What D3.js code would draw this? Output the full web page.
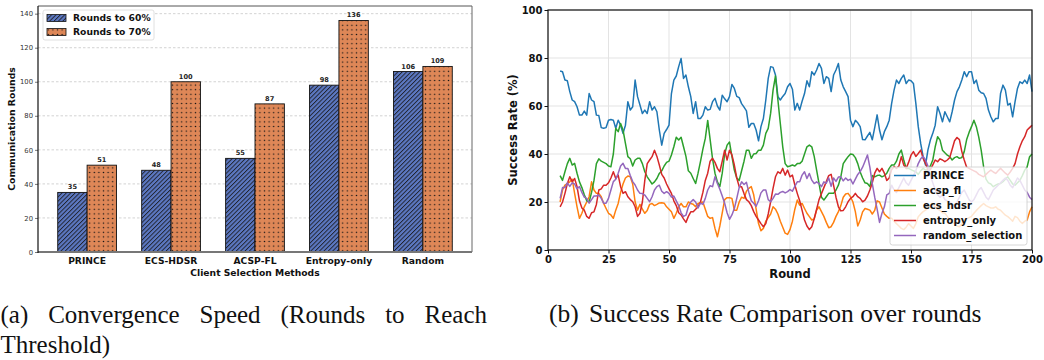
<!DOCTYPE html>
<html><head><meta charset="utf-8">
<script src="https://cdn.jsdelivr.net/npm/d3@7"></script>
<style>
html,body{margin:0;padding:0;background:#fff;}
svg{display:block;}
</style></head>
<body>
<svg id="chart" width="1044" height="360"></svg>
<script>
// ---------- Data: bar chart ----------
const categories = ["PRINCE", "ECS-HDSR", "ACSP-FL", "Entropy-only", "Random"];
const rounds60 = [35, 48, 55, 98, 106];
const rounds70 = [51, 100, 87, 136, 109];
const barYTicks = [0, 20, 40, 60, 80, 100, 120, 140];
const barLegend = ["Rounds to 60%", "Rounds to 70%"];

// ---------- Data: line chart (rounds 5..200) ----------
const firstRound = 5, lastRound = 200;
const lineXTicks = [0, 25, 50, 75, 100, 125, 150, 175, 200];
const lineYTicks = [0, 20, 40, 60, 80, 100];
const seriesNames = ["PRINCE", "acsp_fl", "ecs_hdsr", "entropy_only", "random_selection"];

const prince = [
74.6,74.3,70.8,70.5,66,62.5,61.8,59.7,56.2,56.2,
57.9,56.2,65.2,62.5,61.8,56.2,56,51,50.7,51,
54.1,54.4,54.1,50.7,54.1,52,48.6,52,61.8,58.3,
59.7,70.8,63.9,60.4,56.9,58.3,56.9,61.8,58.3,59.7,
57.6,50,43.7,48.6,50.2,52,65.2,70.8,72.5,76.4,
79.8,71.5,72.9,68,63.9,56.9,61.8,54.8,54.8,56.2,
59.7,58.3,58.6,61.8,63.2,60,58.3,64.5,63,61.8,
63.9,69,67.3,64,63.5,61,59.5,58,51.1,52.7,
52.7,50,45.5,51.4,54.8,62.5,71.5,76.4,76.1,72.9,
63.9,62.5,64,65.2,68,69.4,67,58.3,61.1,58.3,
62,65.2,70.5,68,74.3,72.9,75,77.7,75.7,69.4,
72.2,71.5,66,72.9,75,77.7,70.8,68,66,63.9,
54.1,51.4,54,53,51.4,46,45.9,47.5,49,45.9,
51,56.3,50,45.9,49.3,51.4,54.1,61.1,66.6,70.8,
69.4,71.5,72.9,69.4,70.8,70.5,69.4,61.1,51.4,44.4,
38.9,35.4,41.7,45.8,48.6,52,59.7,56.9,53.4,57.6,
55.5,53.4,57.6,62.5,66,68,70.8,74.3,72.2,74.3,
74.3,69.4,70.8,66.6,65.5,65.2,63.2,58.3,55.5,53.4,
54.8,54.8,65.2,68.7,66.6,60.4,61.1,55.5,61.8,67.3,
70.1,69.4,70.8,69.4,72.9,66];

const acspFl = [
20,25,27,27.7,28.4,29.5,23.6,18,13.2,15.3,
18,20,22.2,28.4,25,23.6,23.6,22.2,19.4,17.3,
15.3,14.6,13.2,16.6,19.4,24,27.5,30,30.8,30.5,
27.5,20,16.6,19,17,15.3,16.5,19,19.4,18.5,
19,19.6,19.7,19.5,18,17,15.9,13.2,15.3,18,
19.4,18,18,20,19.4,19.1,18,19.4,19.7,20,
17,14,13.2,13.5,9,5.5,10,15.5,21,21.8,
21.8,21.5,16.6,16.6,20,22,21.5,24.5,25.7,26.4,
23,17,11,8,9,12,13.5,15,18,17,
15,12,9.5,7,6.5,8.5,12,17,20.8,18.7,
19.4,17.3,15.3,13.9,12.5,13,16.6,18,16,14,
11.5,9.3,9.7,11.5,14,16,18.5,22,23.3,23.6,
22.2,20,16,10,12.5,15.9,17.3,17,16.6,15,
16.5,20.5,20,17.5,15,14,13.2,13.2,12,11,
10,9,8.5,9.5,11,10,9,11,13.9,15,
16,16.6,17.5,18.5,19,18,17,16.5,15.5,15.3,
14,12.5,11.5,11,10,9.7,11,12.5,13,13.5,
14,15.3,16.5,17.5,18.5,19.4,18.5,18,17.5,17.5,
18,17,16.6,15.5,14.5,13.9,13,12,14,13.5,
12,11.1,12,12.5,15.9,18];

const ecsHdsr = [
31,29,32.6,36,38.2,35.4,36.1,32,28.4,26,
23,20.5,20,24,29,36,38,37,36.5,36,
35,34.7,40,50.7,49.3,52.7,50,44.4,38.9,38,
35,37.5,38.2,38.2,36,32.6,30.5,29,27.5,28.4,
29.8,31.9,33,35,36.5,37,39.6,43,47,45.8,
47,43,39,33,32,29.8,27.7,32,36.8,42,
46.5,54,46,38,32,28.4,26.4,32,40,43.7,
45,39,33.3,30,29,33,37,41.6,41.6,38.2,
40,40.2,41.6,41.6,43.7,48.6,50.7,57,66.6,72.5,
62.5,52.7,43,36,34.7,35,35.4,35,36,36,
37,40,43,43.7,43,39,33.3,27.7,22,20.8,
22.2,23.6,23.6,23.6,25,27,30.5,36,37.5,38.9,
40,39.8,38.5,36,32.5,30,28,27.7,26.4,31,
30.5,31,31.2,30.5,31,32,34,35.4,35.4,37,
40,41.6,37.5,34,34,33.5,33,32.6,31.5,33,
34,33.3,33.3,35,37.5,43,47.2,45.8,41.6,40.5,
39.5,38.9,37.5,38.5,38.9,38.2,38.5,41,46,49,
51.4,54.1,51.4,47,41.6,34.7,29.5,28,27.5,26.4,
27,27.5,27.7,28.5,29.5,30.5,29,27.5,27,28,
29,31,33.3,34.7,38.9,40];

const entropyOnly = [
18,20,23.6,27.7,30.5,28.4,29.8,26.4,20.5,17.5,
16.6,14,13.2,15.5,15.9,19,25,25.5,27,27,
28,30,32.6,29.8,31.2,26.4,23.6,24.3,22.2,21,
20.1,18,14,15.3,20,29,36,37.5,38.9,41.6,
39,35.4,31.5,30,27.5,25.5,23.6,20.5,18.5,15.5,
14.6,13,11.5,14,15.9,15.9,17,18,20,24,
29,32,37,38.2,36.5,34,32.6,37,41.6,37.5,
41.6,39.6,35.4,30,26.4,26.4,23.5,21,20.1,18.5,
16,14,12.5,11,9.7,11,15,20.1,25.7,30.5,
32.6,31.9,34,31.2,33.3,30.5,31.2,27.1,23.6,20.5,
16.5,12.5,10,8.5,9.7,13,17,21,23.5,26,
28.5,31,31.5,27,22,18,16.3,16.5,18,20.1,
21.5,22.2,23.6,22.2,21.5,20.1,20.8,22.5,25,28,
32,34,32.6,34,32,29,30,33.5,34.7,34,
35,38.9,35.4,34,36.5,39.5,41,39,40.2,41.6,
38.2,36.1,33.3,33.5,35.5,37.5,36.8,38,37.5,36.8,
37.5,38.5,42,45.5,46.9,46,41,37.5,34.5,34,
33.5,33,32.5,31.5,31,30.5,31.5,32.5,33.3,32.5,
31.9,33,34,33,32,31.2,32.5,34,36,40,
43,45.5,47.2,50,51,52];

const randomSelection = [
21.5,26,26,28,26.5,28,27.5,25.5,26.4,24,
22,21.5,19.5,21,22.5,22.5,22.9,21.5,19.5,19.5,
21.5,25,28.5,29.5,32,35,36.1,34,34,31,
28.5,27.1,25,23.6,23.5,22.9,21.5,20.1,22.2,25,
26.4,27,24.5,23.6,24.3,23.6,22,22.5,20.5,18.5,
15.5,14,14.5,18,20,21,20,17.5,19.5,19,
21.5,25,26.8,26.4,30.5,27.7,25.3,22.5,19.5,15.5,
12.8,14.6,17.3,21.5,26,28.4,27.3,28.2,24,20.5,
19.5,18.2,20.5,23.8,25,25,21,20.1,21.5,23.3,
23.2,24,24.4,23.8,24.3,25.2,24.5,26.5,28.4,28.4,
31.2,32.6,29.8,31.9,29.1,27.7,28.4,27.7,26.4,28.4,
27.8,30,26.5,30,28.6,30.4,30.5,28.8,30,29,
29.5,27.5,29.5,31.5,32.7,34.5,37,39.6,34.5,27.7,
22,17,11.5,15.3,18,23,23.6,27,25,24,
26,28,30,28,27,29,31,33,36,38,
39,37.5,35,31,28,25,23,22,23,21,
20.5,20,19,18.5,20,22,24,25,23,21,
20,21,23,25,26,24,22,21,23,25,
26,27,28,29,30,29,27,26,28,30,
29,27,25,24,22,21];

const seriesValues = [prince, acspFl, ecsHdsr, entropyOnly, randomSelection];
const seriesColors = ["#1f77b4", "#ff7f0e", "#2ca02c", "#d62728", "#9467bd"];

// ---------- Drawing ----------
const svg = d3.select("#chart");
const FONT = "DejaVu Sans";
const defs = svg.append("defs");

// hatch patterns
const pStripe = defs.append("pattern").attr("id", "hatchStripe")
  .attr("patternUnits", "userSpaceOnUse").attr("width", 3.1).attr("height", 10)
  .attr("patternTransform", "rotate(45)");
pStripe.append("rect").attr("width", 3.1).attr("height", 10).attr("fill", "#5c78c2");
pStripe.append("line").attr("x1", 0.5).attr("x2", 0.5).attr("y1", 0).attr("y2", 10)
  .attr("stroke", "#151515").attr("stroke-width", 0.8);

const pDot = defs.append("pattern").attr("id", "hatchDot")
  .attr("patternUnits", "userSpaceOnUse").attr("width", 4.6).attr("height", 4.6);
pDot.append("rect").attr("width", 4.6).attr("height", 4.6).attr("fill", "#de8757");
pDot.append("circle").attr("cx", 2.3).attr("cy", 2.3).attr("r", 0.75).attr("fill", "#151515");

// ===== Left: grouped bar chart =====
const L = {left: 38, right: 472, top: 6, bottom: 252};
const bw = 0.35;
const xb = d3.scaleLinear().domain([-bw - 0.235, categories.length - 1 + bw + 0.235]).range([L.left, L.right]);
const yb = d3.scaleLinear().domain([0, 144.5]).range([L.bottom, L.top]);

const gL = svg.append("g");
// grid
gL.append("g").selectAll("line").data(barYTicks).join("line")
  .attr("x1", L.left).attr("x2", L.right)
  .attr("y1", d => yb(d)).attr("y2", d => yb(d))
  .attr("stroke", "#c8c8c8").attr("stroke-width", 0.8).attr("stroke-dasharray", "2.5,2");

// y axis
const yAxisL = d3.axisLeft(yb).tickValues(barYTicks).tickSize(3).tickPadding(2);
const gyL = gL.append("g").attr("transform", `translate(${L.left},0)`).call(yAxisL);
gyL.select(".domain").remove();
gyL.selectAll(".tick line").attr("stroke", "#555").attr("stroke-width", 0.8);
gyL.selectAll(".tick text").attr("font-family", FONT).attr("font-size", 6.8).attr("fill", "#333");

// bars
const barGroups = [
  {vals: rounds60, off: -bw, fill: "url(#hatchStripe)"},
  {vals: rounds70, off: 0, fill: "url(#hatchDot)"}
];
barGroups.forEach(bg => {
  gL.append("g").selectAll("rect").data(bg.vals).join("rect")
    .attr("x", (d, i) => xb(i + bg.off))
    .attr("width", (d, i) => xb(i + bg.off + bw) - xb(i + bg.off))
    .attr("y", d => yb(d))
    .attr("height", d => yb(0) - yb(d))
    .attr("fill", bg.fill)
    .attr("stroke", "#111").attr("stroke-width", 0.9);
  gL.append("g").selectAll("text").data(bg.vals).join("text")
    .attr("x", (d, i) => xb(i + bg.off + bw / 2))
    .attr("y", d => yb(d) - 3)
    .attr("text-anchor", "middle")
    .attr("font-family", FONT).attr("font-weight", "bold").attr("font-size", 6.6)
    .attr("fill", "#222")
    .text(d => d);
});

// spines
gL.append("line").attr("x1", L.left).attr("x2", L.right).attr("y1", L.top).attr("y2", L.top).attr("stroke", "#555").attr("stroke-width", 1);
gL.append("line").attr("x1", L.right).attr("x2", L.right).attr("y1", L.top).attr("y2", L.bottom).attr("stroke", "#666").attr("stroke-width", 1);
gL.append("line").attr("x1", L.left).attr("x2", L.right).attr("y1", L.bottom).attr("y2", L.bottom).attr("stroke", "#777").attr("stroke-width", 1.8);
gL.append("line").attr("x1", L.left).attr("x2", L.left).attr("y1", L.top).attr("y2", L.bottom + 0.9).attr("stroke", "#111").attr("stroke-width", 1.2);

// category labels
gL.append("g").selectAll("text").data(categories).join("text")
  .attr("x", (d, i) => xb(i)).attr("y", 263.5)
  .attr("text-anchor", "middle")
  .attr("font-family", FONT).attr("font-weight", "bold").attr("font-size", 9.2)
  .attr("fill", "#111").text(d => d);
gL.append("text").attr("x", (L.left + L.right) / 2).attr("y", 275.5)
  .attr("text-anchor", "middle").attr("font-family", FONT).attr("font-weight", "bold")
  .attr("font-size", 9.2).attr("fill", "#111").text("Client Selection Methods");
gL.append("text").attr("transform", `translate(15,${(L.top + L.bottom) / 2}) rotate(-90)`)
  .attr("text-anchor", "middle").attr("font-family", FONT).attr("font-weight", "bold")
  .attr("font-size", 9.3).attr("fill", "#111").text("Communication Rounds");

// legend
const lg = gL.append("g");
lg.append("rect").attr("x", 43).attr("y", 10).attr("width", 111).attr("height", 30).attr("rx", 2)
  .attr("fill", "#fff").attr("fill-opacity", 0.9).attr("stroke", "#d8d8d8").attr("stroke-width", 0.8);
barLegend.forEach((name, i) => {
  const yy = 18 + i * 14;
  lg.append("rect").attr("x", 47).attr("y", yy - 3.5).attr("width", 19).attr("height", 7)
    .attr("fill", barGroups[i].fill).attr("stroke", "#111").attr("stroke-width", 0.8);
  lg.append("text").attr("x", 73).attr("y", yy).attr("dy", "0.35em")
    .attr("font-family", FONT).attr("font-weight", "bold").attr("font-size", 9.2)
    .attr("fill", "#111").text(name);
});

// ===== Right: line chart =====
const R = {left: 548, right: 1032, top: 10, bottom: 250};
const xl = d3.scaleLinear().domain([0, 200]).range([R.left, R.right]);
const yl = d3.scaleLinear().domain([0, 100]).range([R.bottom, R.top]);
const roundsArr = d3.range(firstRound, lastRound + 1);

const gR = svg.append("g");
gR.append("g").selectAll("line").data(lineXTicks).join("line")
  .attr("x1", d => xl(d)).attr("x2", d => xl(d)).attr("y1", R.top).attr("y2", R.bottom)
  .attr("stroke", "#e3e3e3").attr("stroke-width", 1);
gR.append("g").selectAll("line").data(lineYTicks).join("line")
  .attr("x1", R.left).attr("x2", R.right).attr("y1", d => yl(d)).attr("y2", d => yl(d))
  .attr("stroke", "#e3e3e3").attr("stroke-width", 1);

const line = d3.line().x(d => xl(d[0])).y(d => yl(d[1]));
seriesValues.forEach((vals, k) => {
  gR.append("path").datum(roundsArr.map((r, i) => [r, vals[i]]))
    .attr("d", line).attr("fill", "none")
    .attr("stroke", seriesColors[k]).attr("stroke-width", 1.5)
    .attr("stroke-linejoin", "round");
});

// axes
const gxR = gR.append("g").attr("transform", `translate(0,${R.bottom})`)
  .call(d3.axisBottom(xl).tickValues(lineXTicks).tickSize(3.5).tickPadding(2));
const gyR = gR.append("g").attr("transform", `translate(${R.left},0)`)
  .call(d3.axisLeft(yl).tickValues(lineYTicks).tickSize(3.5).tickPadding(2));
[gxR, gyR].forEach(g => {
  g.select(".domain").remove();
  g.selectAll(".tick line").attr("stroke", "#111").attr("stroke-width", 1);
  g.selectAll(".tick text").attr("font-family", FONT).attr("font-weight", "bold")
    .attr("font-size", 10).attr("fill", "#111");
});
gR.append("rect").attr("x", R.left).attr("y", R.top).attr("width", R.right - R.left)
  .attr("height", R.bottom - R.top).attr("fill", "none").attr("stroke", "#111").attr("stroke-width", 1.2);

gR.append("text").attr("x", (R.left + R.right) / 2).attr("y", 277.5)
  .attr("text-anchor", "middle").attr("font-family", FONT).attr("font-weight", "bold")
  .attr("font-size", 11.5).attr("fill", "#111").text("Round");
gR.append("text").attr("transform", `translate(517,${(R.top + R.bottom) / 2}) rotate(-90)`)
  .attr("text-anchor", "middle").attr("font-family", FONT).attr("font-weight", "bold")
  .attr("font-size", 11.5).attr("fill", "#111").text("Success Rate (%)");

// legend
const lr = gR.append("g");
lr.append("rect").attr("x", 890).attr("y", 167).attr("width", 137).attr("height", 78).attr("rx", 2.5)
  .attr("fill", "#fff").attr("fill-opacity", 0.8).attr("stroke", "#cccccc").attr("stroke-width", 0.8);
seriesNames.forEach((name, k) => {
  const yy = 175.5 + k * 15;
  lr.append("line").attr("x1", 894).attr("x2", 916).attr("y1", yy).attr("y2", yy)
    .attr("stroke", seriesColors[k]).attr("stroke-width", 1.5);
  lr.append("text").attr("x", 923).attr("y", yy).attr("dy", "0.35em")
    .attr("font-family", FONT).attr("font-weight", "bold").attr("font-size", 10)
    .attr("fill", "#111").text(name);
});

// ===== Captions =====
const SERIF = "Liberation Serif";
const capA = ["(a)", "Convergence", "Speed", "(Rounds", "to", "Reach"];
const x0 = 0.5, x1 = 487;
const tmp = capA.map(w => svg.append("text").attr("font-family", SERIF).attr("font-size", 25)
  .attr("y", 323).attr("fill", "#111").text(w));
const widths = tmp.map(t => t.node().getComputedTextLength());
const gap = (x1 - x0 - d3.sum(widths)) / (capA.length - 1);
let cx = x0;
tmp.forEach((t, i) => { t.attr("x", cx); cx += widths[i] + gap; });
svg.append("text").attr("x", x0).attr("y", 353).attr("font-family", SERIF).attr("font-size", 25)
  .attr("fill", "#111").text("Threshold)");

svg.append("text").attr("x", 549).attr("y", 322).attr("font-family", SERIF).attr("font-size", 25.5)
  .attr("fill", "#111").text("(b)");
svg.append("text").attr("x", 589).attr("y", 322).attr("font-family", SERIF).attr("font-size", 25.5)
  .attr("fill", "#111").text("Success Rate Comparison over rounds");
</script>
</body></html>
